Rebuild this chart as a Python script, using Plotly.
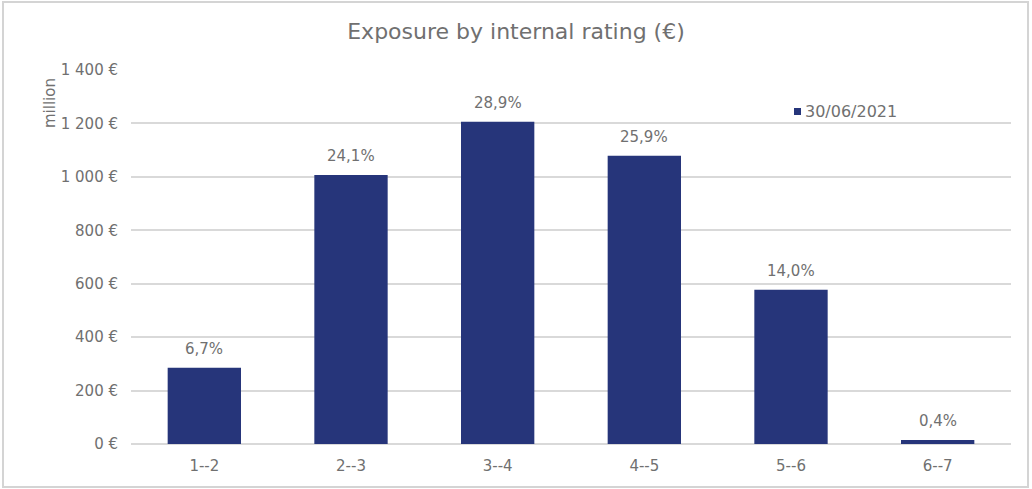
import plotly.graph_objects as go

# Exposure by internal rating bucket (EUR million)
ratings = ["1--2", "2--3", "3--4", "4--5", "5--6", "6--7"]
exposure = [285, 1007, 1206, 1079, 577, 15]
shares = ["6,7%", "24,1%", "28,9%", "25,9%", "14,0%", "0,4%"]
series_name = "30/06/2021"
y_tick_vals = [0, 200, 400, 600, 800, 1000, 1200, 1400]
y_tick_text = ["0 €", "200 €", "400 €", "600 €", "800 €", "1 000 €", "1 200 €", "1 400 €"]

BAR = "#26357a"
TEXT = "#707070"
GRID = "#d9d9d9"
FONT = "'DejaVu Sans', sans-serif"

W, H = 1032, 489
L, R, T, B = 131, 21, 70, 45
pw = W - L - R
ph = H - T - B


def px_x(x):
    return (x - L) / pw


def px_y(y):
    return (H - B - y) / ph


fig = go.Figure()
fig.add_trace(go.Bar(
    x=ratings, y=exposure, name=series_name,
    marker=dict(color=BAR, line=dict(width=0)), width=0.5,
    showlegend=False,
))

# share labels above each bar
for r, v, s in zip(ratings, exposure, shares):
    fig.add_annotation(x=r, y=v, text=s, showarrow=False, yanchor="middle",
                       yshift=19, font=dict(size=15, color=TEXT, family=FONT))

# legend key: small square plus series name
fig.add_shape(type="rect", xref="paper", yref="paper",
              x0=px_x(794), x1=px_x(801), y0=px_y(115), y1=px_y(108),
              fillcolor=BAR, line=dict(width=0))
fig.add_annotation(text=series_name, xref="paper", yref="paper",
                   x=px_x(803), y=px_y(111), xanchor="left", yanchor="middle",
                   showarrow=False, font=dict(size=16, color=TEXT, family=FONT))

# outer frame
fig.add_shape(type="rect", xref="paper", yref="paper",
              x0=px_x(3), x1=px_x(1028), y0=px_y(487), y1=px_y(2),
              line=dict(color="#d4d4d4", width=2), layer="below")

fig.add_annotation(text="million", xref="paper", yref="paper",
                   x=px_x(39), y=px_y(76), textangle=-90,
                   showarrow=False, font=dict(size=15, color=TEXT, family=FONT))

fig.update_layout(
    width=W, height=H,
    margin=dict(l=L, r=R, t=T, b=B),
    paper_bgcolor="white", plot_bgcolor="white",
    font=dict(family=FONT, color=TEXT, size=15),
    title=dict(text="Exposure by internal rating (€)", x=0.5, xanchor="center",
               y=1 - 31 / H, yanchor="middle",
               font=dict(size=22, color=TEXT, family=FONT)),
    bargap=0.5,
    showlegend=False,
    xaxis=dict(showgrid=False, showline=False, ticks="outside", ticklen=8,
               tickcolor="rgba(0,0,0,0)", tickfont=dict(size=15, color=TEXT)),
    yaxis=dict(range=[0, 1400], tickvals=y_tick_vals, ticktext=y_tick_text,
               showgrid=True, gridcolor=GRID, gridwidth=1.5,
               zeroline=True, zerolinecolor=GRID, zerolinewidth=1.5,
               showline=False, ticks="outside", ticklen=9,
               tickcolor="rgba(0,0,0,0)", tickfont=dict(size=15, color=TEXT)),
)

fig.write_html("out.html")
